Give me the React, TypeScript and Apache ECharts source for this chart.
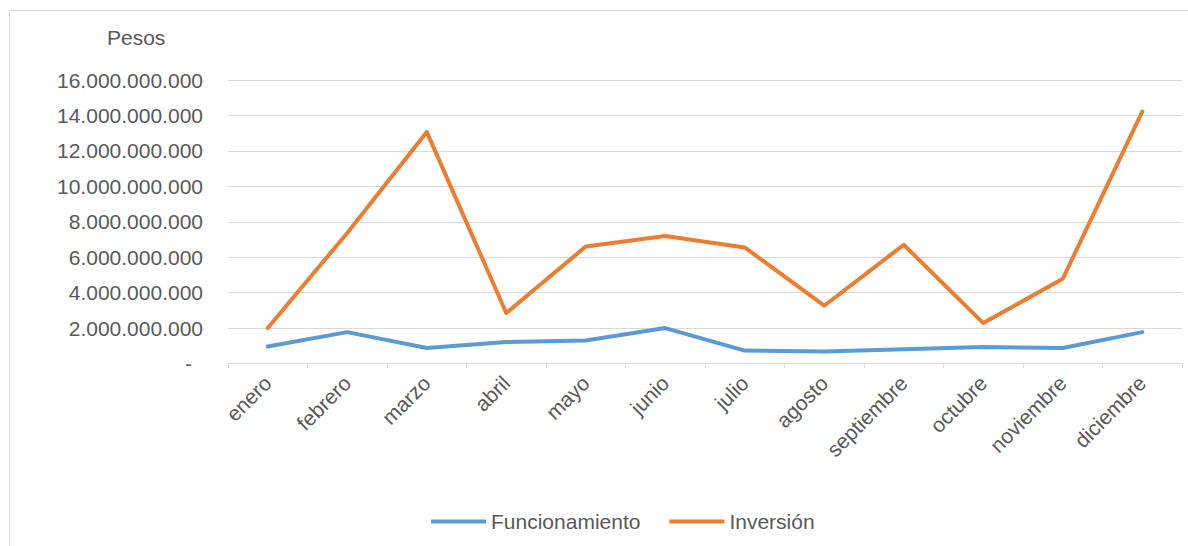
import React, { useEffect, useRef } from "react";
import * as echarts from "echarts";

const months = ["enero", "febrero", "marzo", "abril", "mayo", "junio", "julio", "agosto", "septiembre", "octubre", "noviembre", "diciembre"];
const funcionamiento = [0.96e9, 1.77e9, 0.87e9, 1.21e9, 1.3e9, 2.0e9, 0.73e9, 0.68e9, 0.81e9, 0.93e9, 0.87e9, 1.77e9];
const inversion = [2.0e9, 7.37e9, 13.07e9, 2.85e9, 6.6e9, 7.2e9, 6.55e9, 3.26e9, 6.7e9, 2.28e9, 4.78e9, 14.22e9];
const yMax = 16e9;
const yStep = 2e9;

const FONT = "'Liberation Sans', Arial, sans-serif";
const TXT = "#595959";

function fmt(v: number): string {
  if (v === 0) return "{z|-}";
  return String(Math.round(v)).replace(/\B(?=(\d{3})+(?!\d))/g, ".");
}

export default function App() {
  const ref = useRef<HTMLDivElement>(null);
  useEffect(() => {
    document.body.style.margin = "0";
    const chart = echarts.init(ref.current!, null, { renderer: "svg" });
    chart.setOption({
      animation: false,
      backgroundColor: "#ffffff",
      textStyle: { fontFamily: FONT, color: TXT },
      graphic: [
        { type: "rect", shape: { x: 9.5, y: 10.5, width: 1300, height: 700 }, style: { fill: "none", stroke: "#D9D9D9", lineWidth: 1 }, silent: true },
        { type: "text", left: 107, top: 27, style: { text: "Pesos", fontSize: 21, fontFamily: FONT, fill: TXT } },
      ],
      grid: { left: 228, right: 6, top: 80, bottom: 182.5 },
      legend: {
        left: 431,
        top: 511,
        padding: 0,
        itemGap: 29,
        itemWidth: 55,
        itemHeight: 4,
        icon: "rect",
        textStyle: { fontSize: 21, color: TXT, fontFamily: FONT, padding: [0, 0, 0, 0] },
        data: ["Funcionamiento", "Inversión"],
      },
      xAxis: {
        type: "category",
        data: months,
        boundaryGap: true,
        axisLine: { lineStyle: { color: "#D9D9D9", width: 1 } },
        axisTick: { show: true, length: 5, lineStyle: { color: "#D9D9D9" } },
        axisLabel: { rotate: 45, fontSize: 21, color: TXT, fontFamily: FONT, margin: 16, interval: 0 },
      },
      yAxis: {
        type: "value",
        min: 0,
        max: yMax,
        interval: yStep,
        axisLine: { show: false },
        axisTick: { show: false },
        splitLine: { lineStyle: { color: "#D9D9D9", width: 1 } },
        axisLabel: {
          fontSize: 21,
          color: TXT,
          fontFamily: FONT,
          margin: 25,
          formatter: fmt,
          rich: { z: { fontSize: 21, color: TXT, fontFamily: FONT, padding: [0, 11, 0, 0] } },
        },
      },
      series: [
        { name: "Funcionamiento", type: "line", data: funcionamiento, symbol: "none", color: "#5B9BD5", lineStyle: { width: 4, color: "#5B9BD5", cap: "round", join: "round" } },
        { name: "Inversión", type: "line", data: inversion, symbol: "none", color: "#ED7D31", lineStyle: { width: 4, color: "#ED7D31", cap: "round", join: "round" } },
      ],
    });
    return () => chart.dispose();
  }, []);
  return <div ref={ref} style={{ width: 1188, height: 546, position: "absolute", left: 0, top: 0 }} />;
}
